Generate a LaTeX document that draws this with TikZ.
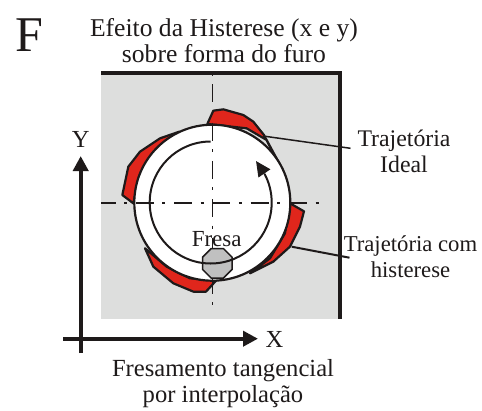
\documentclass[tikz,border=0pt]{standalone}
\usepackage{fontspec}
\setmainfont{Liberation Serif}
\usetikzlibrary{arrows.meta,shapes.geometric}
\definecolor{panel}{RGB}{221,222,221}
\definecolor{hred}{RGB}{224,38,28}
\definecolor{ink}{RGB}{30,26,26}
\definecolor{cutter}{RGB}{192,192,192}
\tikzset{
 txt/.style={font=\fontsize{#1}{26}\selectfont,text=ink,align=center,inner sep=0pt},
 txt/.default=23,
 blob/.style={fill=hred,draw=ink,line width=2.2pt,line join=round},
 axis/.style={draw=ink,line width=4pt,-{Triangle[length=15pt,width=15pt]}},
 leader/.style={draw=ink,line width=1.5pt},
 center line/.style={draw=ink,line width=1.6pt,dash pattern=on 18pt off 8.5pt on 3pt off 8.8pt}
}
\begin{document}
\begin{tikzpicture}[x=1pt,y=-1pt]
\useasboundingbox (0,0) rectangle (482,410);
\fill[white] (0,0) rectangle (482,410);
\fill[panel] (101,73) rectangle (340,319);
\draw[ink,line width=4pt] (101,73) -- (340,73) -- (340,319);
% red blobs, coordinates in zoom units
\begin{scope}[shift={(90,90)},x=0.3333pt,y=-0.3333pt]
\draw[blob] (352,102) -- (370,62) -- (400,58) -- (460,75) -- (490,95) -- (522,135) -- (550,190) -- (572,228) -- (530,150) -- (470,115) -- cycle;
\draw[blob] (268,125) -- (210,145) -- (150,185) -- (115,230) -- (97,315) -- (130,340) -- (145,270) -- (190,190) -- cycle;
\draw[blob] (600,340) -- (642,364) -- (630,410) -- (600,470) -- (550,515) -- (480,550) -- (540,505) -- (585,430) -- cycle;
\draw[blob] (165,475) -- (190,530) -- (250,580) -- (310,605) -- (348,605) -- (380,570) -- (300,565) -- (230,530) -- cycle;
\end{scope}
% hole
\coordinate (c) at (212.3,202.7);
\draw[ink,line width=2.2pt,fill=white] (c) circle[radius=78];
% center lines
\draw[center line,dash phase=3.5pt] (101,202.7) -- (319,202.7);
\draw[center line,dash phase=27pt] (212.3,73) -- (212.3,305);
% leaders
\coordinate (l1a) at (263,136);
\coordinate (l1b) at (350.5,148.3);
\coordinate (l2a) at (291.7,246.7);
\coordinate (l2b) at (349.5,257.7);
\draw[leader] (l1a) -- (l1b);
\draw[leader,line width=2pt] (l2a) -- (l2b);
% cutter
\node[draw=ink,fill=cutter,line width=1.5pt,regular polygon,regular polygon sides=8,minimum size=32pt,inner sep=0pt] (fresa) at (217.3,263.3) {};
% tool path
\coordinate (p0) at (210.7,141.5);
\coordinate (p1) at (264.5,173.5);
\coordinate (tip) at (256,161);
\draw[ink,line width=2pt] (p0) arc[start angle=270,end angle=-28,radius=61];
\draw[ink,line width=2pt,-{Triangle[length=15pt,width=14pt]}] (p1) -- (tip);
\node[txt] (fresaT) at (216.7,239.5) {Fresa};
% axes
\coordinate (x0) at (63,338.7);
\coordinate (x1) at (258,338.7);
\coordinate (y0) at (80.7,353);
\coordinate (y1) at (80.7,156);
\draw[axis] (x0) -- (x1);
\draw[axis] (y0) -- (y1);
\node[txt=24.5] (xl) at (274.5,339.7) {X};
\node[txt=24.5] (yl) at (80.7,139) {Y};
% texts
\node[font=\fontsize{50}{50}\selectfont,text=ink,inner sep=0pt] (f) at (29.5,35.5) {F};
\node[txt=25.6] (title) at (224,41) {Efeito da Histerese (x e y)\\sobre forma do furo};
\node[txt=23.8] (ideal) at (404,151) {Trajetória\\Ideal};
\node[txt=22.7] (hist) at (410.5,257) {Trajetória com\\histerese};
\node[txt=24.6] (cap) at (223,384) {Fresamento tangencial\\por interpolação};
\end{tikzpicture}
\end{document}
